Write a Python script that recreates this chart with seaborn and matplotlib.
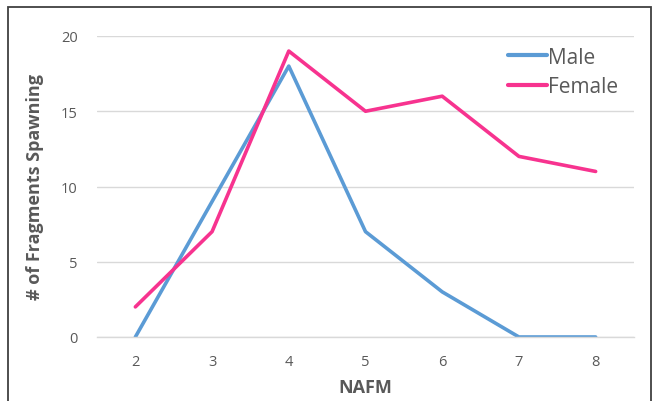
import matplotlib
matplotlib.use("Agg")
import matplotlib.pyplot as plt
import seaborn as sns
import pandas as pd
from matplotlib.patches import Rectangle

nafm = [2, 3, 4, 5, 6, 7, 8]
male = [0, 9, 18, 7, 3, 0, 0]
female = [2, 7, 19, 15, 16, 12, 11]
yticks = [0, 5, 10, 15, 20]

df = pd.DataFrame({
    "NAFM": nafm * 2,
    "count": male + female,
    "sex": ["Male"] * len(nafm) + ["Female"] * len(nafm),
})

sns.set_style("white")
plt.rcParams['font.family'] = ['Open Sans', 'DejaVu Sans']

fig = plt.figure(figsize=(6.59, 4.02), dpi=100)
ax = fig.add_axes([97/659, 1 - 338/402, (634 - 97)/659, (338 - 37)/402])

sns.lineplot(data=df, x="NAFM", y="count", hue="sex",
             palette={"Male": "#5B9BD5", "Female": "#F7338F"},
             linewidth=2.6, ax=ax)

ax.set_xlim(1.5, 8.5)
ax.set_ylim(0, 20)
ax.set_xticks(nafm)
ax.set_yticks(yticks)
ax.yaxis.grid(True, color="#D9D9D9", linewidth=1)
ax.set_axisbelow(True)
for s in ["top", "right", "left"]:
    ax.spines[s].set_visible(False)
ax.spines["bottom"].set_color("#D9D9D9")
ax.spines["bottom"].set_linewidth(1)
ax.tick_params(axis="both", length=0, labelsize=10.5, colors="#595959", pad=12)
ax.tick_params(axis="y", pad=14)

ax.set_xlabel("NAFM", fontsize=13, fontweight="bold", color="#595959", labelpad=7)
ax.set_ylabel("# of Fragments Spawning", fontsize=13, fontweight="bold", color="#595959", labelpad=12)

leg = ax.legend(loc="upper left", bbox_to_anchor=(0.73, 1.027), frameon=False,
                fontsize=15, handlelength=1.9, handletextpad=0.05, labelspacing=0.42,
                labelcolor="#595959")
for h in leg.get_lines():
    h.set_linewidth(3)

fig.patches.append(Rectangle((8/659, -0.05), (651 - 8)/659, 1 - 8/402 + 0.05,
                             transform=fig.transFigure, fill=False,
                             edgecolor="#404040", linewidth=1.3, clip_on=False))

fig.savefig("out.png", dpi=100)
